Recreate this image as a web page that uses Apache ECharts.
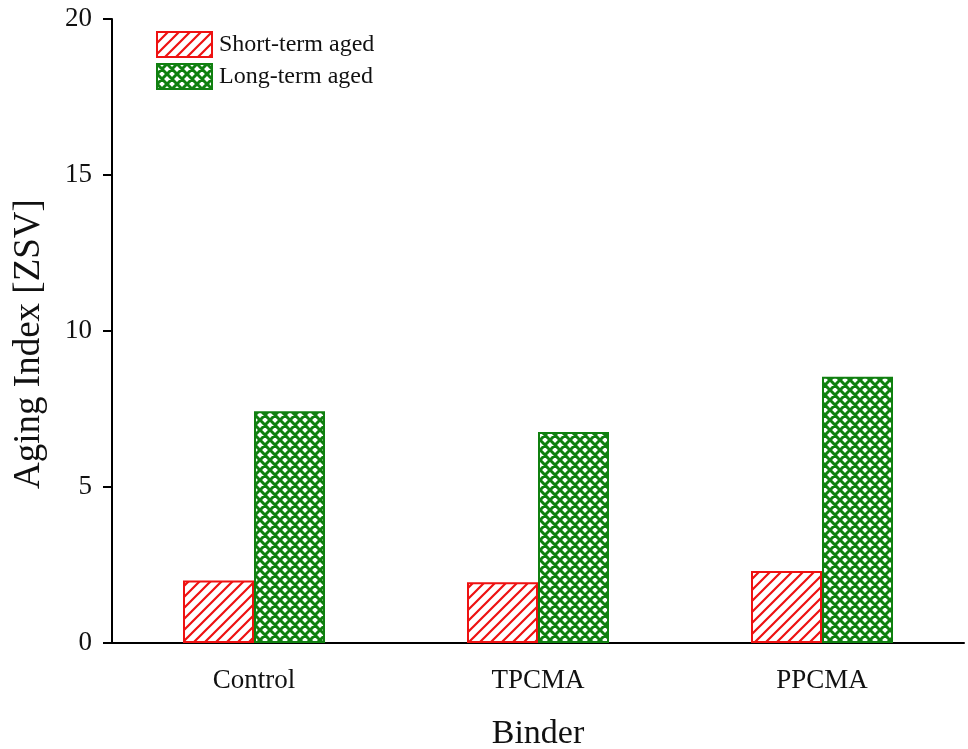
<!DOCTYPE html>
<html>
<head>
<meta charset="utf-8">
<script src="https://cdn.jsdelivr.net/npm/echarts@6/dist/echarts.min.js"></script>
<style>
  html, body { margin: 0; padding: 0; background: #ffffff; overflow: hidden; }
  #chart { width: 968px; height: 749px; }
</style>
</head>
<body>
<div id="chart"></div>
<script>
// Binder categories and aging index values
const binders = ['Control', 'TPCMA', 'PPCMA'];
const shortTermAged = [2.0, 1.95, 2.31];
const longTermAged = [7.43, 6.76, 8.53];
const seriesNames = ['Short-term aged', 'Long-term aged'];
const yTicks = { min: 0, max: 20, interval: 5 };

const FONT = '"Liberation Serif", "Times New Roman", serif';

// Red forward-slash hatch tile
function hatchTile(color, size, width) {
  const c = document.createElement('canvas');
  c.width = size; c.height = size;
  const g = c.getContext('2d');
  g.fillStyle = '#ffffff';
  g.fillRect(0, 0, size, size);
  g.strokeStyle = color;
  g.lineWidth = width;
  g.beginPath();
  g.moveTo(-1, size + 1); g.lineTo(size + 1, -1);
  g.moveTo(-1, 1); g.lineTo(1, -1);
  g.moveTo(size - 1, size + 1); g.lineTo(size + 1, size - 1);
  g.stroke();
  return c;
}

// Green diagonal crosshatch tile
function crossTile(color, size, width) {
  const c = document.createElement('canvas');
  c.width = size; c.height = size;
  const g = c.getContext('2d');
  g.fillStyle = '#ffffff';
  g.fillRect(0, 0, size, size);
  g.strokeStyle = color;
  g.lineWidth = width;
  g.beginPath();
  g.moveTo(-1, size + 1); g.lineTo(size + 1, -1);
  g.moveTo(-1, -1); g.lineTo(size + 1, size + 1);
  g.moveTo(-1, 1); g.lineTo(1, -1);
  g.moveTo(size - 1, size + 1); g.lineTo(size + 1, size - 1);
  g.moveTo(size - 1, -1); g.lineTo(size + 1, 1);
  g.moveTo(-1, size - 1); g.lineTo(1, size + 1);
  g.stroke();
  return c;
}

const RED = '#ee1111';
const GREEN = '#108010';

const chart = echarts.init(document.getElementById('chart'), null, { renderer: 'canvas' });

chart.setOption({
  backgroundColor: '#ffffff',
  animation: false,
  grid: { left: 112, right: 4, top: 19, bottom: 106, containLabel: false, outerBoundsMode: 'none' },
  legend: {
    left: 156,
    top: 31,
    padding: 0,
    orient: 'vertical',
    icon: 'rect',
    itemWidth: 55,
    itemHeight: 25,
    itemGap: 5,
    textStyle: { fontFamily: FONT, fontSize: 24, color: '#111111', padding: [0, 0, 0, 2] },
    data: seriesNames
  },
  xAxis: {
    type: 'category',
    data: binders,
    name: 'Binder',
    nameLocation: 'middle',
    nameGap: 74,
    nameTextStyle: { fontFamily: FONT, fontSize: 34, color: '#111111' },
    axisLine: { lineStyle: { color: '#000000', width: 2 } },
    axisTick: { alignWithLabel: true, length: 7, lineStyle: { color: '#000000', width: 2 } },
    axisLabel: { fontFamily: FONT, fontSize: 27, color: '#111111', margin: 24 }
  },
  yAxis: {
    type: 'value',
    min: yTicks.min,
    max: yTicks.max,
    interval: yTicks.interval,
    name: 'Aging Index [ZSV]',
    nameLocation: 'middle',
    nameGap: 64,
    nameTextStyle: { fontFamily: FONT, fontSize: 37, color: '#111111', padding: [0, 26, 0, 0] },
    axisLine: { show: true, lineStyle: { color: '#000000', width: 2 } },
    axisTick: { show: true, length: 9, lineStyle: { color: '#000000', width: 2 } },
    axisLabel: { fontFamily: FONT, fontSize: 27, color: '#111111', margin: 20 },
    splitLine: { show: false }
  },
  series: [
    {
      name: seriesNames[0],
      type: 'bar',
      data: shortTermAged,
      barWidth: 71,
      barGap: '0%',
      itemStyle: {
        color: { image: hatchTile(RED, 11, 2.2), repeat: 'repeat' },
        borderColor: RED,
        borderWidth: 2
      }
    },
    {
      name: seriesNames[1],
      type: 'bar',
      data: longTermAged,
      barWidth: 71,
      barGap: '0%',
      itemStyle: {
        color: { image: crossTile(GREEN, 10, 3), repeat: 'repeat' },
        borderColor: GREEN,
        borderWidth: 2
      }
    }
  ]
});
</script>
</body>
</html>
